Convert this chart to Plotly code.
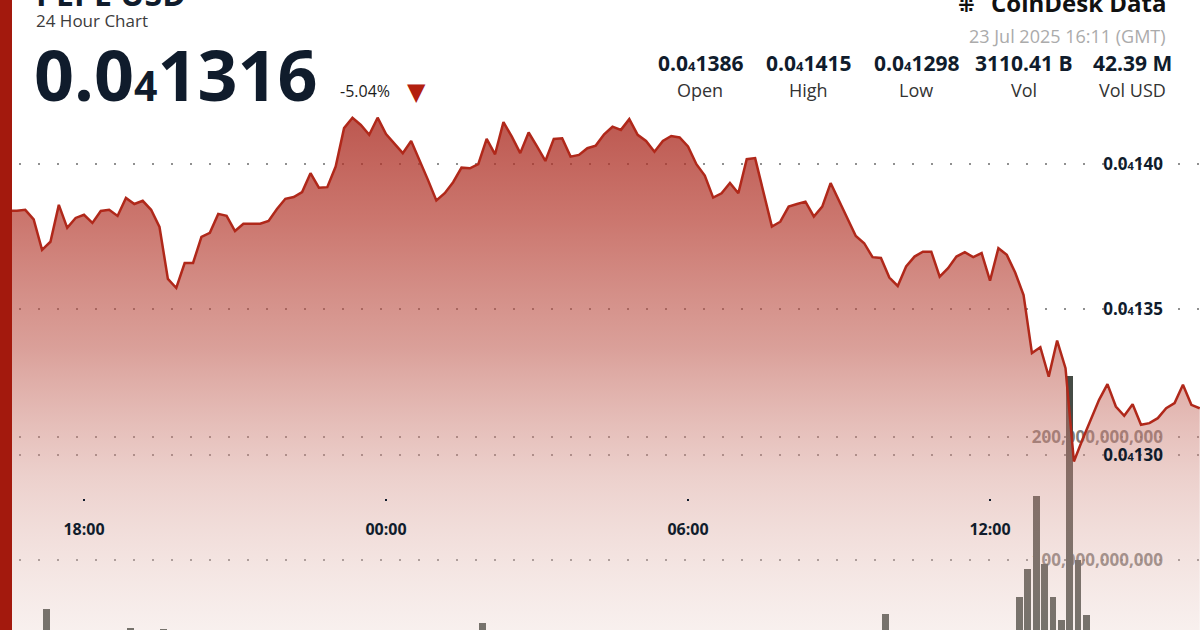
import pandas as pd
import plotly.graph_objects as go

# ---------------- data ----------------
times = pd.date_range("2025-07-22 16:20", periods=144, freq="10min")

# PEPE price in units of 1e-8 USD, 10-minute closes (16:20 .. 16:10 next day)
price_e8 = [
    1384, 1384, 1384, 1384.3, 1381, 1370.5,
    1373.3, 1386, 1378.1, 1381.5, 1382.6, 1379.8,
    1383.9, 1384.3, 1382.2, 1388.4, 1386.3, 1387.4,
    1384.3, 1378.4, 1360.5, 1357.4, 1366, 1366,
    1375, 1376.4, 1382.9, 1382.2, 1377, 1379.5,
    1379.5, 1379.5, 1380.5, 1384.6, 1388.1, 1388.7,
    1390.4, 1396.9, 1391.9, 1392.1, 1399.2, 1412.4,
    1416, 1413.5, 1410.1, 1416, 1410.4, 1407.2,
    1403.8, 1408, 1401.5, 1394.6, 1387.5, 1390,
    1393.8, 1398.8, 1398.6, 1400, 1408.7, 1403.4,
    1414.5, 1409.5, 1403.8, 1410.9, 1406.1, 1401.1,
    1408.7, 1408.9, 1402.6, 1403.2, 1405.5, 1406.4,
    1410.3, 1412.9, 1411.8, 1415.5, 1410.1, 1408,
    1404.3, 1408, 1409.7, 1409.2, 1406.1, 1400,
    1396.1, 1388.5, 1390, 1393.5, 1390, 1401.7,
    1402.1, 1390.3, 1378.5, 1380.2, 1385.4, 1386.3,
    1387.1, 1382, 1385.4, 1393.5, 1387.4, 1381.2,
    1375.3, 1372.8, 1368, 1367.7, 1361, 1358.1,
    1364.8, 1368.2, 1369.9, 1369.9, 1361.3, 1364.2,
    1368.2, 1369.7, 1368, 1369.4, 1359.9, 1371.1,
    1368.8, 1362.7, 1355, 1335, 1337, 1326.9,
    1339.3, 1329.8, 1297.7, 1305.1, 1312, 1318.9,
    1324.3, 1316.6, 1313.4, 1317.4, 1310.3, 1310.9,
    1312.6, 1316, 1317.8, 1324.1, 1317.2, 1316,
]

# traded volume in billions of PEPE per 10-minute bar
volume_b = [
    18, 14, 12, 16, 22, 30,
    60, 25, 14, 12, 10, 9,
    11, 8, 9, 14, 45, 12,
    16, 38, 44, 30, 18, 12,
    14, 11, 13, 9, 10, 8,
    7, 8, 9, 12, 15, 11,
    10, 18, 12, 9, 20, 34,
    28, 18, 14, 22, 20, 16,
    12, 11, 13, 14, 18, 12,
    10, 9, 8, 8, 49, 15,
    20, 14, 11, 12, 9, 10,
    11, 8, 7, 8, 9, 8,
    10, 12, 9, 14, 10, 9,
    8, 7, 8, 9, 12, 15,
    13, 18, 11, 10, 9, 16,
    12, 14, 26, 14, 11, 9,
    8, 10, 9, 15, 12, 11,
    14, 13, 16, 12, 56, 24,
    15, 11, 9, 8, 16, 10,
    9, 8, 10, 9, 18, 14,
    12, 28, 70, 92.5, 152, 97,
    70, 51, 249, 100, 55, 38,
    30, 22, 18, 20, 24, 16,
    14, 12, 15, 22, 18, 12,
]

price = [p * 1e-8 for p in price_e8]
volume = [v * 1e9 for v in volume_b]

price_tickvals = [1.30e-5, 1.35e-5, 1.40e-5]
price_ticktext = ["130", "135", "140"]
volume_tickvals = [100e9, 200e9]
x_tickvals = ["2025-07-22 18:00", "2025-07-23 00:00", "2025-07-23 06:00", "2025-07-23 12:00"]
x_ticktext = ["18:00", "00:00", "06:00", "12:00"]

stat_values = ["1386", "1415", "1298", "3110.41 B", "42.39 M"]
stat_small = [True, True, True, False, False]
stat_labels = ["Open", "High", "Low", "Vol", "Vol USD"]

last_price = "1316"
change_pct = "-5.04%"
title = "PEPE USD"
subtitle = "24 Hour Chart"
brand = "CoinDesk Data"
stamp = "23 Jul 2025 16:11 (GMT)"

# ---------------- style ----------------
W, H = 1200, 630
FONT = "Open Sans"
NAVY = "#101c2c"
LINE = "#b0281a"


def px_x(x):
    return x / W


def px_y(y):
    return (H - y) / H


def small4(size):
    return "0.0<span style='font-size:%dpx'>4</span>" % size


fig = go.Figure()

fig.add_trace(go.Bar(
    x=times, y=volume, xaxis="x", yaxis="y",
    marker=dict(color="#454b45", line=dict(width=0)),
    width=480000, offset=-540000, hoverinfo="skip",
))

fig.add_trace(go.Scatter(
    x=times, y=price, xaxis="x", yaxis="y2", mode="lines",
    line=dict(color=LINE, width=2.5),
    fill="tozeroy",
    fillgradient=dict(
        type="vertical",
        colorscale=[
            [0.0, "rgba(232,205,198,0.30)"],
            [0.3, "rgba(213,151,142,0.45)"],
            [0.55, "rgba(188,82,70,0.55)"],
            [0.8, "rgba(179,54,42,0.68)"],
            [1.0, "rgba(172,46,36,0.80)"],
        ],
        start=1.2397e-5, stop=1.416e-5,
    ),
    hoverinfo="skip",
))

grid = dict(showgrid=True, gridcolor="rgba(125,125,125,0.85)", gridwidth=2,
            griddash="2px,17px", zeroline=False)

fig.update_layout(
    width=W, height=H,
    margin=dict(l=0, r=0, t=0, b=0),
    paper_bgcolor="white", plot_bgcolor="white",
    showlegend=False,
    bargap=0,
    font=dict(family=FONT, color=NAVY),
    xaxis=dict(
        type="date", domain=[0, 1],
        range=["2025-07-22 16:19:52", "2025-07-23 16:10:19"],
        anchor="free", position=(H - 498) / H,
        tickmode="array", tickvals=x_tickvals, ticktext=x_ticktext,
        ticks="outside", ticklen=2, tickwidth=2, tickcolor=NAVY,
        ticklabelstandoff=15,
        tickfont=dict(family=FONT, size=16, color=NAVY, weight="bold"),
        showgrid=False, showline=False, zeroline=False,
    ),
    yaxis=dict(
        domain=[0, 1], range=[43.2e9, 554.2e9], side="right",
        tickmode="array", tickvals=volume_tickvals, tickformat=",.0f",
        ticklabelposition="inside", ticks="", ticklabelstandoff=34,
        tickfont=dict(family=FONT, size=17, color="rgba(105,100,96,0.85)", weight="bold"),
        layer="below traces", showline=False, **grid,
    ),
    yaxis2=dict(
        overlaying="y", range=[1.2397e-5, 1.4565e-5], side="right",
        tickmode="array", tickvals=price_tickvals,
        ticktext=[small4(11) + t for t in price_ticktext],
        ticklabelposition="inside", ticks="", ticklabelstandoff=34,
        tickfont=dict(family=FONT, size=17, color=NAVY, weight="bold"),
        showline=False, **grid,
    ),
)

# left brand bar
fig.add_shape(type="rect", xref="paper", yref="paper", x0=0, x1=px_x(12), y0=0, y1=1,
              fillcolor="#a3190d", line=dict(width=0), layer="above")

ann = []
ann.append(dict(text="<b>%s</b>" % title, x=px_x(34), y=px_y(17), xanchor="left", yanchor="bottom",
                font=dict(size=32, color=NAVY)))
ann.append(dict(text=subtitle, x=px_x(34), y=px_y(21), xanchor="left", yanchor="middle",
                font=dict(size=17, color="#3c3c3c")))
ann.append(dict(text="<b>0.0<span style='font-size:41px'>4</span>%s</b>" % last_price,
                x=px_x(32), y=px_y(74), xanchor="left", yanchor="middle",
                font=dict(size=70, color=NAVY)))
ann.append(dict(text=change_pct, x=px_x(338), y=px_y(91), xanchor="left", yanchor="middle",
                font=dict(size=16, color="#1c1c1c")))
ann.append(dict(text="▼", x=px_x(417), y=px_y(92), xanchor="center", yanchor="middle",
                font=dict(size=24, color="#b3200f", family="DejaVu Sans")))
ann.append(dict(text="<b>%s</b>" % brand, x=px_x(1168), y=px_y(3), xanchor="right", yanchor="middle",
                font=dict(size=24, color="#111111")))
ann.append(dict(text="<b>⁜</b>", x=px_x(966), y=px_y(5), xanchor="center", yanchor="middle",
                font=dict(size=20, color="#111111", family="DejaVu Sans")))
ann.append(dict(text=stamp, x=px_x(1168), y=px_y(36), xanchor="right", yanchor="middle",
                font=dict(size=18, color="#ababab")))

stat_centers = [700, 808, 916, 1024, 1132]
for cx, val, sm, lab in zip(stat_centers, stat_values, stat_small, stat_labels):
    txt = ("<b>" + small4(13) + val + "</b>") if sm else ("<b>%s</b>" % val)
    ann.append(dict(text=txt, x=px_x(cx), y=px_y(63), xanchor="center", yanchor="middle",
                    font=dict(size=21, color=NAVY)))
    ann.append(dict(text=lab, x=px_x(cx), y=px_y(90), xanchor="center", yanchor="middle",
                    font=dict(size=18, color="#333333")))

for a in ann:
    a.update(xref="paper", yref="paper", showarrow=False)
    a["font"].setdefault("family", FONT)
fig.update_layout(annotations=ann)

fig.write_html("out.html", config={"displayModeBar": False},
               post_script="document.body.style.margin='0';document.body.style.overflow='hidden';")
